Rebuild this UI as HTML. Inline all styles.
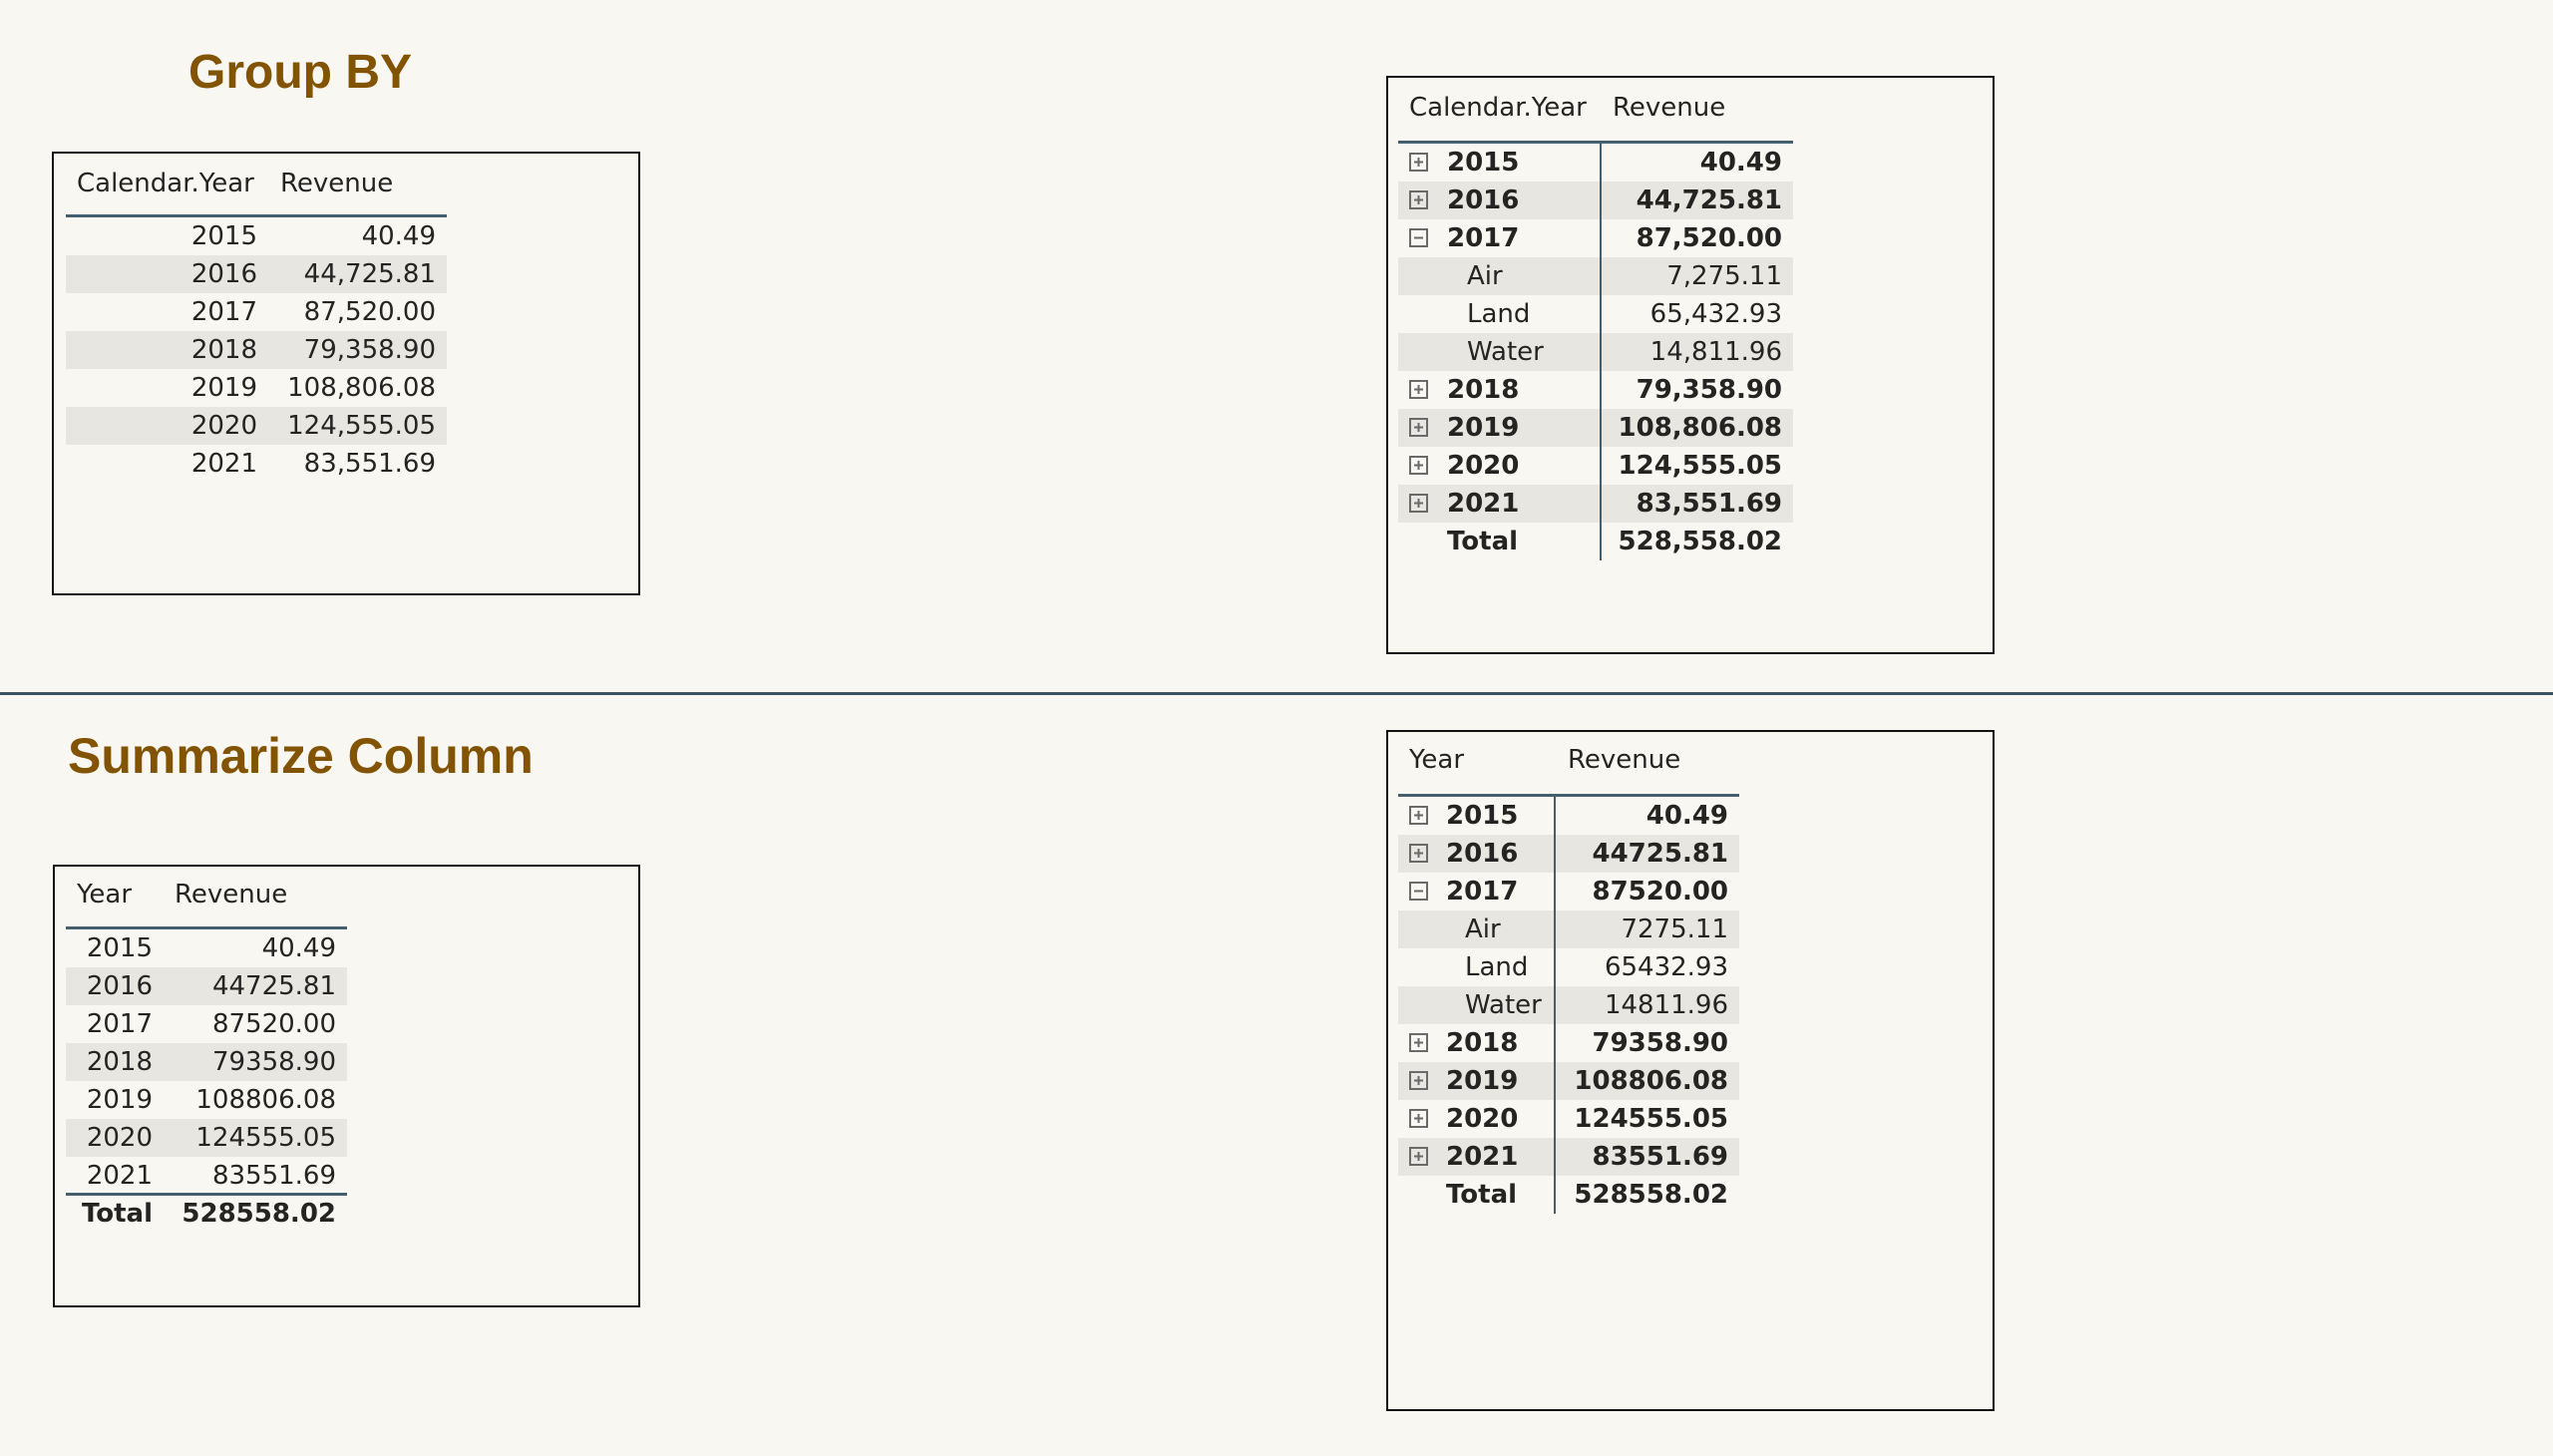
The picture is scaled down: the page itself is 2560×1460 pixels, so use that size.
<!DOCTYPE html>
<html><head><meta charset="utf-8"><style>
html,body{margin:0;padding:0;}
body{width:2560px;height:1460px;background:#f8f7f2;position:relative;overflow:hidden;font-family:"DejaVu Sans","Liberation Sans",sans-serif;color:#252423;}
.abs{position:absolute;}
.title{position:absolute;font-family:"Liberation Sans",sans-serif;font-weight:bold;color:#835400;line-height:60px;white-space:nowrap;}
.box{position:absolute;border:2px solid #111;box-sizing:border-box;}
.t{position:absolute;font-size:26px;line-height:38px;white-space:nowrap;}
.r{text-align:right;width:400px;}
.b{font-weight:bold;}
.band{position:absolute;background:#e8e6e1;height:38px;}
.hl{position:absolute;background:#44606e;height:3px;}
.vl{position:absolute;background:#44606e;width:2px;}
</style></head><body>
<div class="title" style="left:189px;top:43px;font-size:48px;">Group BY</div>
<div class="title" style="left:68px;top:728px;font-size:50px;">Summarize Column</div>
<div class="abs" style="left:0;top:694px;width:2560px;height:3px;background:#3b5360;"></div>
<div id="root"></div>
<script>
const years = [2015, 2016, 2017, 2018, 2019, 2020, 2021];
const revenue = [40.49, 44725.81, 87520.00, 79358.90, 108806.08, 124555.05, 83551.69];
const shipModes = ['Air', 'Land', 'Water'];
const shipRevenue2017 = [7275.11, 65432.93, 14811.96];
const expandedYear = 2017;

function fmt(v, comma){
  let s = v.toFixed(2);
  if(!comma) return s;
  let [i,d] = s.split('.');
  i = i.replace(/\B(?=(\d{3})+(?!\d))/g, ',');
  return i + '.' + d;
}
const root = document.getElementById('root');
function el(cls, style, text){
  const d = document.createElement('div');
  d.className = cls;
  d.style.cssText = style;
  if(text !== undefined) d.textContent = text;
  root.appendChild(d);
  return d;
}
const total = revenue.reduce((a,b)=>a+b,0);

function flatTable(cfg){
  const bx = el('box', `left:${cfg.box[0]}px;top:${cfg.box[1]}px;width:${cfg.box[2]-cfg.box[0]}px;height:${cfg.box[3]-cfg.box[1]}px;`);
  
  
  const h1 = el('t', `left:${cfg.h1x}px;top:${cfg.hb-28}px;`, cfg.h1);
  
  
  const h2 = el('t', `left:${cfg.h2x}px;top:${cfg.hb-28}px;`, 'Revenue');
  
  
  const ln = el('hl', `left:${cfg.lx0}px;top:${cfg.ly}px;width:${cfg.lx1-cfg.lx0}px;`);
  
  
  years.forEach((y,i)=>{
    const top = cfg.rt + 38*i;
    if(i%2===1){
      const bd = el('band', `left:${cfg.lx0}px;top:${top}px;width:${cfg.lx1-cfg.lx0}px;`);
      
      
    }
    const a = el('t r', `left:${cfg.yr-400}px;top:${top}px;`, String(y));
    
    
    const b = el('t r', `left:${cfg.vr-400}px;top:${top}px;`, fmt(revenue[i], cfg.comma));
    
    
  });
  if(cfg.total){
    const tt = cfg.rt + 38*years.length;
    const tl = el('hl', `left:${cfg.lx0}px;top:${tt-2}px;width:${cfg.lx1-cfg.lx0}px;`);
    
    
    const a = el('t r b', `left:${cfg.yr-400}px;top:${tt}px;`, 'Total');
    
    
    const b = el('t r b', `left:${cfg.vr-400}px;top:${tt}px;`, fmt(total, cfg.comma));
    
    
  }
}

function icon(x, top, expanded){
  const d = el('abs', `left:${x}px;top:${top+9}px;width:19px;height:19px;`);
  d.innerHTML = `<svg width="19" height="19"><rect x="1" y="1" width="17" height="17" fill="none" stroke="#6a6a6a" stroke-width="2"/><line x1="5" y1="9.5" x2="14" y2="9.5" stroke="#6a6a6a" stroke-width="2"/>${expanded?'':'<line x1="9.5" y1="5" x2="9.5" y2="14" stroke="#6a6a6a" stroke-width="2"/>'}</svg>`;
  
  
}

function matrix(cfg){
  const bx = el('box', `left:${cfg.box[0]}px;top:${cfg.box[1]}px;width:${cfg.box[2]-cfg.box[0]}px;height:${cfg.box[3]-cfg.box[1]}px;`);
  
  
  const h1 = el('t', `left:${cfg.h1x}px;top:${cfg.hb-28}px;`, cfg.h1);
  
  
  const h2 = el('t', `left:${cfg.h2x}px;top:${cfg.hb-28}px;`, 'Revenue');
  
  
  const rows = [];
  years.forEach((y,i)=>{
    rows.push({label:String(y), v:revenue[i], bold:true, icon:true, exp:y===expandedYear});
    if(y===expandedYear) shipModes.forEach((m,j)=>rows.push({label:m, v:shipRevenue2017[j], bold:false, child:true}));
  });
  rows.push({label:'Total', v:total, bold:true, total:true});
  rows.forEach((r,i)=>{
    const top = cfg.rt + 38*i;
    if(i%2===1){
      const bd = el('band', `left:${cfg.lx0}px;top:${top}px;width:${cfg.lx1-cfg.lx0}px;`);
      
      
    }
    if(r.icon) icon(cfg.ix, top, r.exp);
    const lx = r.child ? cfg.cx : cfg.yx;
    const a = el('t' + (r.bold?' b':''), `left:${lx}px;top:${top}px;`, r.label);
    
    
    const b = el('t r' + (r.bold?' b':''), `left:${cfg.vr-400}px;top:${top}px;`, fmt(r.v, cfg.comma));
    
    
  });
  const ln = el('hl', `left:${cfg.lx0}px;top:${cfg.ly}px;width:${cfg.lx1-cfg.lx0}px;`);
  
  
  const vl = el('vl', `left:${cfg.dx}px;top:${cfg.ly}px;height:${cfg.rt+38*rows.length-cfg.ly}px;`);
  
  
}

flatTable({name:'group-by-table', box:[52,152,642,597], h1:'Calendar.Year', h1x:77, h2x:281, hb:193, lx0:66, lx1:448, ly:215, rt:218, yr:258, vr:437, comma:true, total:false});
flatTable({name:'summarize-table', box:[53,867,642,1311], h1:'Year', h1x:77, h2x:175, hb:906, lx0:66, lx1:348, ly:929, rt:932, yr:153, vr:337, comma:false, total:true});
matrix({name:'group-by-matrix', box:[1390,76,2000,656], h1:'Calendar.Year', h1x:1413, h2x:1617, hb:117, lx0:1402, lx1:1798, ly:141, rt:144, dx:1604, ix:1413, yx:1451, cx:1471, vr:1787, comma:true});
matrix({name:'summarize-matrix', box:[1390,732,2000,1415], h1:'Year', h1x:1413, h2x:1572, hb:771, lx0:1402, lx1:1744, ly:796, rt:799, dx:1558, ix:1413, yx:1450, cx:1469, vr:1733, comma:false});
</script>
</body></html>
